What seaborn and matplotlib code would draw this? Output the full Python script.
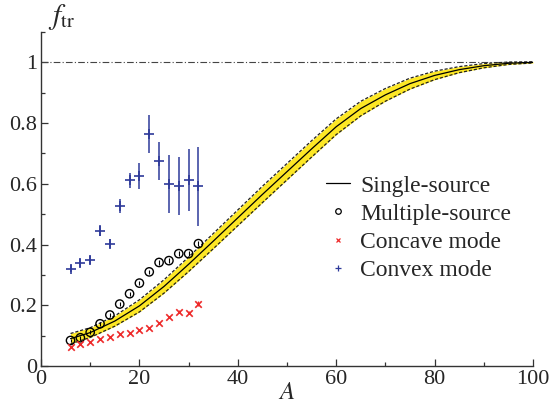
import matplotlib
matplotlib.use("Agg")
import matplotlib.pyplot as plt
import matplotlib.ticker as mticker
from matplotlib.lines import Line2D
import seaborn as sns
import pandas as pd

# ---- data ----
A_pts = [6, 8, 10, 12, 14, 16, 18, 20, 22, 24, 26, 28, 30, 32]
multi = [0.084, 0.093, 0.111, 0.139, 0.168, 0.204, 0.238, 0.273, 0.310, 0.341, 0.347, 0.370, 0.370, 0.403]
multi_err = [0.006, 0.006, 0.006, 0.006, 0.006, 0.006, 0.006, 0.007, 0.007, 0.007, 0.008, 0.008, 0.008, 0.009]
concave = [0.064, 0.072, 0.078, 0.089, 0.097, 0.106, 0.110, 0.117, 0.124, 0.141, 0.162, 0.179, 0.176, 0.205]
concave_err = [0.002, 0.002, 0.002, 0.002, 0.002, 0.002, 0.002, 0.002, 0.003, 0.003, 0.004, 0.005, 0.005, 0.009]
convex = [0.320, 0.339, 0.348, 0.446, 0.403, 0.528, 0.612, 0.625, 0.765, 0.676, 0.600, 0.592, 0.614, 0.592]
convex_err = [0.011, 0.013, 0.013, 0.019, 0.016, 0.023, 0.025, 0.043, 0.062, 0.062, 0.095, 0.096, 0.102, 0.130]

A_curve = [6, 10, 15, 20, 25, 30, 35, 40, 45, 50, 55, 60, 65, 70, 75, 80, 85, 90, 95, 100]
single = [0.090, 0.110, 0.148, 0.198, 0.262, 0.335, 0.411, 0.488, 0.565, 0.640, 0.715, 0.788,
          0.848, 0.893, 0.930, 0.957, 0.976, 0.989, 0.997, 1.000]
single_halfwidth = [0.017, 0.016, 0.017, 0.020, 0.022, 0.024, 0.025, 0.026, 0.027, 0.027, 0.027, 0.026,
                    0.024, 0.021, 0.018, 0.014, 0.010, 0.007, 0.004, 0.002]

legend_labels = ["Single-source", "Multiple-source", "Concave mode", "Convex mode"]

# ---- style ----
sns.set_theme(style="ticks")
plt.rcParams["font.family"] = "serif"
plt.rcParams["font.serif"] = ["Liberation Serif", "DejaVu Serif"]
plt.rcParams["mathtext.fontset"] = "stix"
plt.rcParams["xtick.direction"] = "in"
plt.rcParams["ytick.direction"] = "in"

fig = plt.figure(figsize=(5.53, 4.09), dpi=100)
ax = fig.add_axes([41 / 553, 1 - 366 / 409, 492 / 553, 334 / 409])

YELLOW = "#fde725"
RED = "#ee2a2a"
BLUE = "#2e3a9a"

curve_df = pd.DataFrame({"A": A_curve, "f": single, "w": single_halfwidth})
curve_df["lo"] = curve_df["f"] - curve_df["w"]
curve_df["hi"] = curve_df["f"] + curve_df["w"]
pts_df = pd.DataFrame({"A": A_pts, "multi": multi, "concave": concave, "convex": convex})

# band
ax.fill_between(curve_df["A"], curve_df["lo"], curve_df["hi"], color=YELLOW, lw=0, zorder=1)
sns.lineplot(data=curve_df, x="A", y="lo", ax=ax, color="#222222", lw=0.9, ls=(0, (2.5, 1.5)), zorder=2)
sns.lineplot(data=curve_df, x="A", y="hi", ax=ax, color="#222222", lw=0.9, ls=(0, (2.5, 1.5)), zorder=2)
sns.lineplot(data=curve_df, x="A", y="f", ax=ax, color="black", lw=0.9, zorder=3)

# reference line at 1
ax.axhline(1.0, xmin=0, xmax=1, color="#444444", lw=0.8, ls=(0, (6, 2, 1, 2)), zorder=1)

# error bars
ax.errorbar(A_pts, convex, yerr=convex_err, fmt="none", ecolor=BLUE, elinewidth=1.1, zorder=4)
ax.errorbar(A_pts, multi, yerr=multi_err, fmt="none", ecolor="black", elinewidth=0.8, zorder=4)
ax.errorbar(A_pts, concave, yerr=concave_err, fmt="none", ecolor=RED, elinewidth=0.9, zorder=4)

# markers
sns.scatterplot(data=pts_df, x="A", y="multi", ax=ax, marker="o", s=36,
                facecolor="none", edgecolor="black", linewidth=1.0, zorder=5)
sns.scatterplot(data=pts_df, x="A", y="concave", ax=ax, marker="x", s=22,
                color=RED, linewidth=1.2, zorder=5)
sns.scatterplot(data=pts_df, x="A", y="convex", ax=ax, marker="+", s=55,
                color=BLUE, linewidth=1.2, zorder=5)

# axes
ax.set_xlim(0, 100)
ax.set_ylim(0, 1.1)
sns.despine(ax=ax)
for side in ("left", "bottom"):
    ax.spines[side].set_linewidth(1.0)
    ax.spines[side].set_color("#333333")
ax.xaxis.set_major_locator(mticker.MultipleLocator(20))
ax.xaxis.set_minor_locator(mticker.MultipleLocator(10))
ax.yaxis.set_major_locator(mticker.FixedLocator([0, 0.2, 0.4, 0.6, 0.8, 1.0]))
ax.yaxis.set_minor_locator(mticker.FixedLocator([0.1, 0.3, 0.5, 0.7, 0.9, 1.1]))
ax.yaxis.set_major_formatter(mticker.FuncFormatter(lambda v, p: "%g" % round(v, 2)))
ax.tick_params(which="major", length=5, width=0.9, labelsize=16, color="#333333", pad=3)
ax.tick_params(which="minor", length=3, width=0.9, color="#333333")
ax.set_xlabel("$A$", fontsize=18, labelpad=-5)
ax.set_ylabel("")
ax.text(0.014, 1.0, r"$f_{\rm tr}$", transform=ax.transAxes, fontsize=21,
        ha="left", va="bottom")

handles = [
    Line2D([], [], color="black", lw=0.9),
    Line2D([], [], marker="o", ls="none", mfc="none", mec="black", ms=4, mew=0.9),
    Line2D([], [], marker="x", ls="none", color=RED, ms=3.5, mew=0.9),
    Line2D([], [], marker="+", ls="none", color=BLUE, ms=4.5, mew=0.9),
]
ax.legend(handles, legend_labels, loc="upper left", bbox_to_anchor=(0.56, 0.60),
          frameon=False, fontsize=17, handlelength=1.0, handletextpad=0.45,
          labelspacing=0.28, borderaxespad=0)

fig.savefig("out.png", dpi=100)
